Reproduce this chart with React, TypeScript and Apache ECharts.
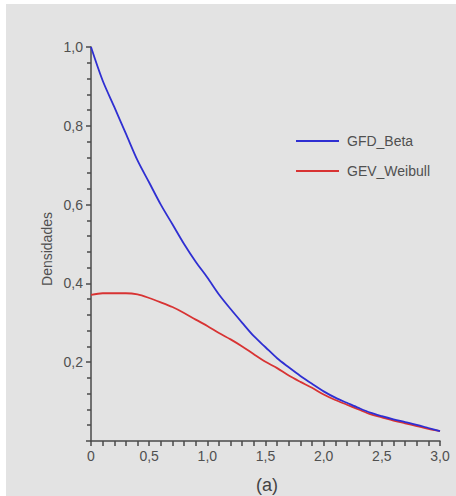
import React, { useEffect, useRef } from "react";
import * as echarts from "echarts";

const xValues = [0, 0.1, 0.2, 0.3, 0.4, 0.5, 0.6, 0.7, 0.8, 0.9, 1.0, 1.1, 1.2, 1.3, 1.4, 1.5, 1.6, 1.7, 1.8, 1.9, 2.0, 2.1, 2.2, 2.3, 2.4, 2.5, 2.6, 2.7, 2.8, 2.9, 3.0];
const gfdBeta = [1.0, 0.915, 0.848, 0.78, 0.712, 0.656, 0.6, 0.55, 0.5, 0.455, 0.415, 0.372, 0.335, 0.3, 0.266, 0.238, 0.21, 0.187, 0.165, 0.145, 0.126, 0.11, 0.097, 0.084, 0.072, 0.063, 0.055, 0.048, 0.041, 0.033, 0.025];
const gevWeibull = [0.371, 0.375, 0.375, 0.375, 0.372, 0.363, 0.352, 0.34, 0.325, 0.308, 0.292, 0.274, 0.258, 0.24, 0.22, 0.201, 0.185, 0.166, 0.15, 0.135, 0.118, 0.104, 0.092, 0.08, 0.068, 0.06, 0.052, 0.045, 0.038, 0.031, 0.025];
const seriesNames = ["GFD_Beta", "GEV_Weibull"];
const yAxisName = "Densidades";
const caption = "(a)";

const FONT = "'Liberation Sans', Arial, sans-serif";
const AXIS_COLOR = "#4a4a4a";
const TEXT_COLOR = "#505050";

export default function App() {
  const ref = useRef<HTMLDivElement>(null);
  useEffect(() => {
    if (!ref.current) return;
    const chart = echarts.init(ref.current, null, { renderer: "svg" });
    const fmt = (v: number) => (v === 0 ? "0" : v.toFixed(1).replace(".", ","));
    chart.setOption({
      animation: false,
      backgroundColor: "#ffffff",
      graphic: [
        { type: "rect", z: -10, silent: true, shape: { x: 6, y: 4, width: 450, height: 492 }, style: { fill: "#e3e3e3" } },
        {
          type: "text",
          x: 47,
          y: 249,
          rotation: Math.PI / 2,
          style: { text: yAxisName, fill: TEXT_COLOR, font: `14px ${FONT}`, textAlign: "center", textVerticalAlign: "middle" },
        },
        {
          type: "text",
          x: 267,
          y: 485,
          style: { text: caption, fill: "#444", font: `18px ${FONT}`, textAlign: "center", textVerticalAlign: "middle" },
        },
      ],
      legend: {
        orient: "vertical",
        left: 296,
        top: 134,
        padding: 0,
        icon: "rect",
        itemWidth: 43,
        itemHeight: 2,
        itemGap: 16,
        textStyle: { fontFamily: FONT, fontSize: 14, color: TEXT_COLOR, padding: [0, 0, 0, 3] },
        data: seriesNames,
      },
      grid: { left: 91, top: 47, right: 16, bottom: 55, containLabel: false },
      xAxis: {
        type: "value",
        min: 0,
        max: 3,
        interval: 0.5,
        axisLine: { lineStyle: { color: AXIS_COLOR, width: 1.5 } },
        axisTick: { show: true, length: 5, lineStyle: { color: AXIS_COLOR, width: 1.5 } },
        minorTick: { show: true, splitNumber: 5, length: 5, lineStyle: { color: AXIS_COLOR, width: 1.5 } },
        axisLabel: { formatter: fmt, fontFamily: FONT, fontSize: 14, color: TEXT_COLOR, margin: 8 },
        splitLine: { show: false },
      },
      yAxis: {
        type: "value",
        min: 0,
        max: 1,
        interval: 0.2,
        axisLine: { show: true, lineStyle: { color: AXIS_COLOR, width: 1.5 } },
        axisTick: { show: true, length: 5, lineStyle: { color: AXIS_COLOR, width: 1.5 } },
        minorTick: { show: true, splitNumber: 5, length: 4, lineStyle: { color: AXIS_COLOR, width: 1.5 } },
        axisLabel: { formatter: (v: number) => (v === 0 ? "" : fmt(v)), fontFamily: FONT, fontSize: 14, color: TEXT_COLOR, margin: 8 },
        splitLine: { show: false },
      },
      series: [
        {
          name: seriesNames[0],
          type: "line",
          symbol: "none",
          smooth: 0.3,
          z: 3,
          data: xValues.map((x, i) => [x, gfdBeta[i]]),
          lineStyle: { color: "#2f2fd2", width: 1.8 },
          itemStyle: { color: "#2f2fd2" },
        },
        {
          name: seriesNames[1],
          type: "line",
          symbol: "none",
          smooth: 0.3,
          z: 2,
          data: xValues.map((x, i) => [x, gevWeibull[i]]),
          lineStyle: { color: "#d83333", width: 1.8 },
          itemStyle: { color: "#d83333" },
        },
      ],
    });
    return () => chart.dispose();
  }, []);
  return <div ref={ref} style={{ position: "fixed", left: 0, top: 0, width: 456, height: 496 }} />;
}
